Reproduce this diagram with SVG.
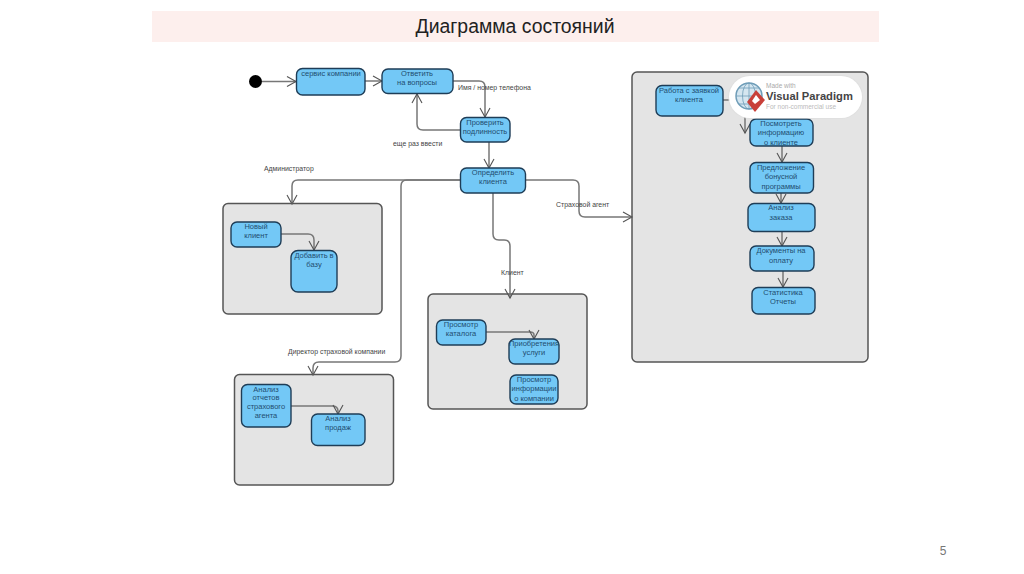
<svg xmlns="http://www.w3.org/2000/svg" width="1024" height="574" viewBox="0 0 1024 574">
<defs>
<marker id="arr" markerUnits="userSpaceOnUse" markerWidth="14" markerHeight="14" refX="10" refY="6" orient="auto"><path d="M1 1 L10 6 L1 11" fill="none" stroke="#555" stroke-width="1.1"/></marker>
</defs>
<style>
text{font-family:"Liberation Sans",Arial,sans-serif}
.s{fill:#73c8f6;stroke:#1e3d57;stroke-width:1.4}
.b{fill:#e4e4e4;stroke:#555;stroke-width:1.5}
.t{font-size:7.5px;fill:#1f4d70;text-anchor:middle}
.l{font-size:6.9px;fill:#444}
.c{fill:none;stroke:#777;stroke-width:1.5;marker-end:url(#arr)}
</style>
<rect id="title-bar" x="152" y="11" width="727" height="31" fill="#fdefed"/>
<text x="515" y="33" font-size="19.400" text-anchor="middle" fill="#222">Диаграмма состояний</text>
<text x="943" y="555" font-size="12" text-anchor="middle" fill="#777">5</text>

<g id="box-admin"><rect class="b" x="223" y="203.500" width="159" height="110.500" rx="5"/></g>
<g id="box-director"><rect class="b" x="234.500" y="374.500" width="159" height="110.500" rx="5"/></g>
<g id="box-client"><rect class="b" x="428" y="294" width="159" height="115" rx="5"/></g>
<g id="box-agent"><rect class="b" x="632" y="72" width="236" height="290" rx="5"/></g>

<g id="connectors">
<path class="c" d="M262 81.500H296"/>
<path class="c" d="M365 81H382"/>
<path class="c" d="M453 81H479Q485 81 485 87V117"/>
<path class="c" d="M460 130H423Q417 130 417 124V94"/>
<path class="c" d="M489 142V168"/>
<path class="c" d="M460 180H298Q292 180 292 186V204"/>
<path class="c" d="M460 180H407Q401 180 401 186V356Q401 362 395 362H319Q313 362 313 368V375"/>
<path class="c" d="M525 180H573Q579 180 579 186V211Q579 217 585 217H632"/>
<path class="c" d="M493 193V234Q493 240 499 240H504Q510 240 510 246V298"/>
<path class="c" d="M281 234H308Q314 234 314 240V250"/>
<path class="c" d="M291 406H332Q338 406 338 411V414"/>
<path class="c" d="M486 332H530Q534 332 534 335V339"/>
<path class="c" d="M723 100H739Q745 100 745 106V133"/>
<path class="c" d="M782 146V162"/>
<path class="c" d="M781 193V203"/>
<path class="c" d="M782 231V246"/>
<path class="c" d="M783 271V287"/>
</g>

<g id="start"><circle cx="255.500" cy="81.500" r="6.500" fill="#000"/></g>

<g id="n-service"><rect class="s" x="296.500" y="68.500" width="68.500" height="26.500" rx="6"/><text class="t" x="331" y="76">сервис компании</text></g>
<g id="n-answer"><rect class="s" x="382" y="69" width="71" height="24.500" rx="6"/><text class="t" x="417" y="76">Ответить</text><text class="t" x="417" y="85">на вопросы</text></g>
<g id="n-check"><rect class="s" x="460.500" y="117.500" width="49.500" height="24.500" rx="6"/><text class="t" x="485" y="125">Проверить</text><text class="t" x="485" y="134">подлинность</text></g>
<g id="n-define"><rect class="s" x="460.500" y="168" width="65" height="25" rx="6"/><text class="t" x="493" y="175">Определить</text><text class="t" x="493" y="184">клиента</text></g>

<g id="n-new"><rect class="s" x="231" y="222" width="50" height="25" rx="6"/><text class="t" x="256" y="229">Новый</text><text class="t" x="256" y="238">клиент</text></g>
<g id="n-add"><rect class="s" x="291" y="250.500" width="46" height="41.500" rx="7"/><text class="t" x="314" y="258">Добавить в</text><text class="t" x="314" y="267">базу</text></g>

<g id="n-reports"><rect class="s" x="241.500" y="384.500" width="49.500" height="42.500" rx="6"/><text class="t" x="266" y="392">Анализ</text><text class="t" x="266" y="400">отчетов</text><text class="t" x="266" y="409">страхового</text><text class="t" x="266" y="418">агента</text></g>
<g id="n-sales"><rect class="s" x="311.500" y="414" width="53.500" height="31.500" rx="6"/><text class="t" x="338" y="421">Анализ</text><text class="t" x="338" y="430">продаж</text></g>

<g id="n-catalog"><rect class="s" x="436.500" y="320" width="49.500" height="25" rx="6"/><text class="t" x="461" y="327">Просмотр</text><text class="t" x="461" y="336">каталога</text></g>
<g id="n-buy"><rect class="s" x="509" y="339" width="50" height="25" rx="6"/><text class="t" x="534" y="346">Приобретения</text><text class="t" x="534" y="355">услуги</text></g>
<g id="n-info"><rect class="s" x="510" y="375" width="48" height="29" rx="6"/><text class="t" x="534" y="382">Просмотр</text><text class="t" x="534" y="391">информации</text><text class="t" x="534" y="401">о компании</text></g>

<g id="n-work"><rect class="s" x="656" y="85.500" width="67" height="30.500" rx="6"/><text class="t" x="689" y="93">Работа с заявкой</text><text class="t" x="689" y="102">клиента</text></g>
<g id="n-view"><rect class="s" x="750" y="119" width="63" height="27" rx="6"/><text class="t" x="781" y="126">Посмотреть</text><text class="t" x="781" y="135">информацию</text><text class="t" x="781" y="145">о клиенте</text></g>
<g id="n-bonus"><rect class="s" x="750" y="162.500" width="63.500" height="30.500" rx="6"/><text class="t" x="781" y="170">Предложение</text><text class="t" x="781" y="179">бонусной</text><text class="t" x="781" y="189">программы</text></g>
<g id="n-order"><rect class="s" x="748" y="203.500" width="67" height="28" rx="6"/><text class="t" x="781" y="210">Анализ</text><text class="t" x="781" y="220">заказа</text></g>
<g id="n-docs"><rect class="s" x="750" y="246" width="64" height="25" rx="6"/><text class="t" x="781" y="253">Документы на</text><text class="t" x="781" y="263">оплату</text></g>
<g id="n-stats"><rect class="s" x="752" y="287.500" width="63" height="26.500" rx="6"/><text class="t" x="783" y="295">Статистика</text><text class="t" x="783" y="304">Отчеты</text></g>

<g id="labels">
<text class="l" x="458" y="90">Имя / номер телефона</text>
<text class="l" x="393" y="146">еще раз ввести</text>
<text class="l" x="264" y="171">Администратор</text>
<text class="l" x="556" y="207">Страховой агент</text>
<text class="l" x="501" y="275">Клиент</text>
<text class="l" x="288" y="354">Директор страховой компании</text>
</g>

<g id="watermark">
<rect x="728" y="75" width="135" height="44" rx="22" fill="#ddd" opacity="0.6"/>
<rect x="729" y="76" width="133" height="42" rx="21" fill="#fff"/>
<circle cx="749" cy="96" r="13" fill="#d5e6f0" stroke="#6f9db8" stroke-width="1.5"/>
<path d="M736 96H762M749 83V109M739 88H759M739 104H759" fill="none" stroke="#6f9db8" stroke-width="0.8"/>
<ellipse cx="749" cy="96" rx="6.500" ry="13" fill="none" stroke="#6f9db8" stroke-width="0.8"/>
<path d="M756 90L765 100L755 112L747 102Z" fill="#c8403a"/>
<path d="M756 95L760 100L755 104L752 101Z" fill="#fff"/>
<text x="766" y="88" font-size="6.500" fill="#aaa">Made with</text>
<text x="766" y="100" font-size="11.200" font-weight="bold" fill="#444">Visual Paradigm</text>
<text x="766" y="109" font-size="6.500" fill="#bbb">For non-commercial use</text>
</g>
</svg>
